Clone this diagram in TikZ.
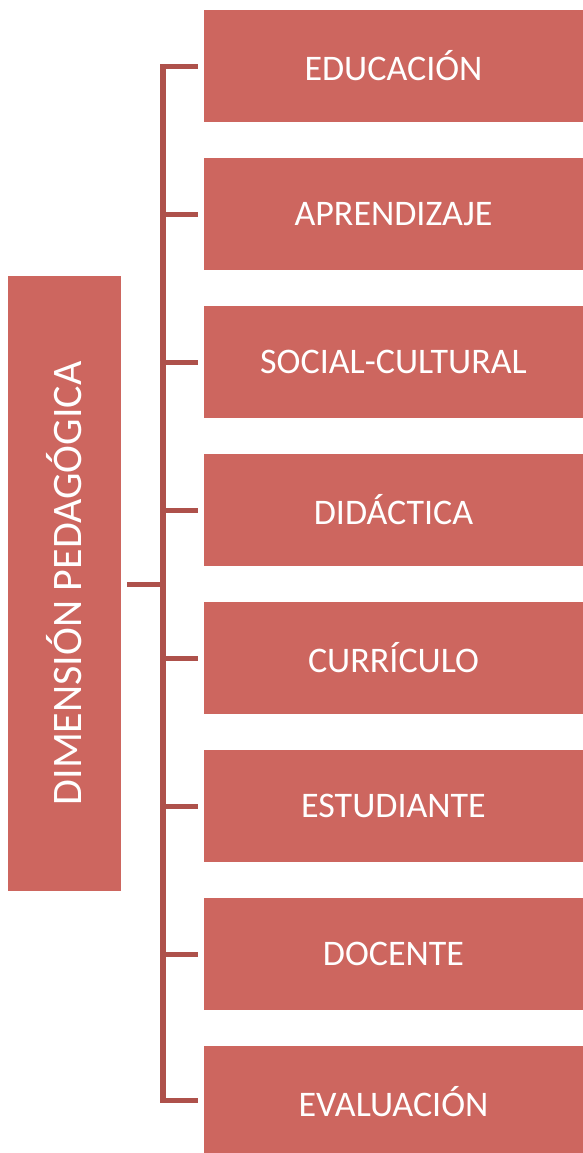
\documentclass[tikz,border=0pt]{standalone}
\usepackage{fontspec}
\setmainfont{Carlito}
\usepackage{tikz}

\begin{document}
\begin{tikzpicture}[x = 1pt,
                    y = -1pt]


  % COLORS
  \definecolor{boxcolor_dp}{HTML}{CD665F}
  \definecolor{linecolor_dp}{HTML}{AE514B}


  % STYLES
  \tikzstyle{boxstyle_dp} = [fill=boxcolor_dp, draw=none, text=white, inner sep=0pt, font=\fontsize{36}{40}\selectfont, minimum width=379pt, minimum height=112pt]
  \tikzstyle{mainstyle_dp} = [fill=boxcolor_dp, draw=none, text=white, inner sep=0pt, font=\fontsize{42}{46}\selectfont, minimum width=615pt, minimum height=113pt, rotate=90]
  \tikzstyle{linestyle_dp} = [draw=linecolor_dp, line width=5.5pt, line join=miter]


  % BOUNDING BOX
  \useasboundingbox (0, 0) rectangle (583, 1153);


  % MAIN BOX
  \node[mainstyle_dp] (dim) at (64.5, 583.5) {DIMENSIÓN PEDAGÓGICA};


  % BOXES
  \node[boxstyle_dp] (b1) at (393.5, 66) {EDUCACIÓN};
  \node[boxstyle_dp] (b2) at (393.5, 214) {APRENDIZAJE};
  \node[boxstyle_dp] (b3) at (393.5, 362) {SOCIAL-CULTURAL};
  \node[boxstyle_dp] (b4) at (393.5, 510) {DIDÁCTICA};
  \node[boxstyle_dp] (b5) at (393.5, 658) {CURRÍCULO};
  \node[boxstyle_dp] (b6) at (393.5, 806) {ESTUDIANTE};
  \node[boxstyle_dp] (b7) at (393.5, 954) {DOCENTE};
  \node[boxstyle_dp] (b8) at (393.5, 1102) {EVALUACIÓN};


  % DEF POINTS
  \coordinate (t0) at (162.75, 584.5);
  \coordinate (t1) at (162.75, 66.5);
  \coordinate (t2) at (162.75, 214.5);
  \coordinate (t3) at (162.75, 362.5);
  \coordinate (t4) at (162.75, 510.5);
  \coordinate (t5) at (162.75, 658.5);
  \coordinate (t6) at (162.75, 806.5);
  \coordinate (t7) at (162.75, 954.5);
  \coordinate (t8) at (162.75, 1100.5);


  % LINES
  \draw[linestyle_dp, shorten <=6pt, shorten >=6pt] (b1.west |- t1) -- (t1) -- (t8) -- (b8.west |- t8);
  \draw[linestyle_dp, shorten <=6pt] (dim.south |- t0) -- (t0);
  \draw[linestyle_dp, shorten <=6pt] (b2.west |- t2) -- (t2);
  \draw[linestyle_dp, shorten <=6pt] (b3.west |- t3) -- (t3);
  \draw[linestyle_dp, shorten <=6pt] (b4.west |- t4) -- (t4);
  \draw[linestyle_dp, shorten <=6pt] (b5.west |- t5) -- (t5);
  \draw[linestyle_dp, shorten <=6pt] (b6.west |- t6) -- (t6);
  \draw[linestyle_dp, shorten <=6pt] (b7.west |- t7) -- (t7);

\end{tikzpicture}
\end{document}
